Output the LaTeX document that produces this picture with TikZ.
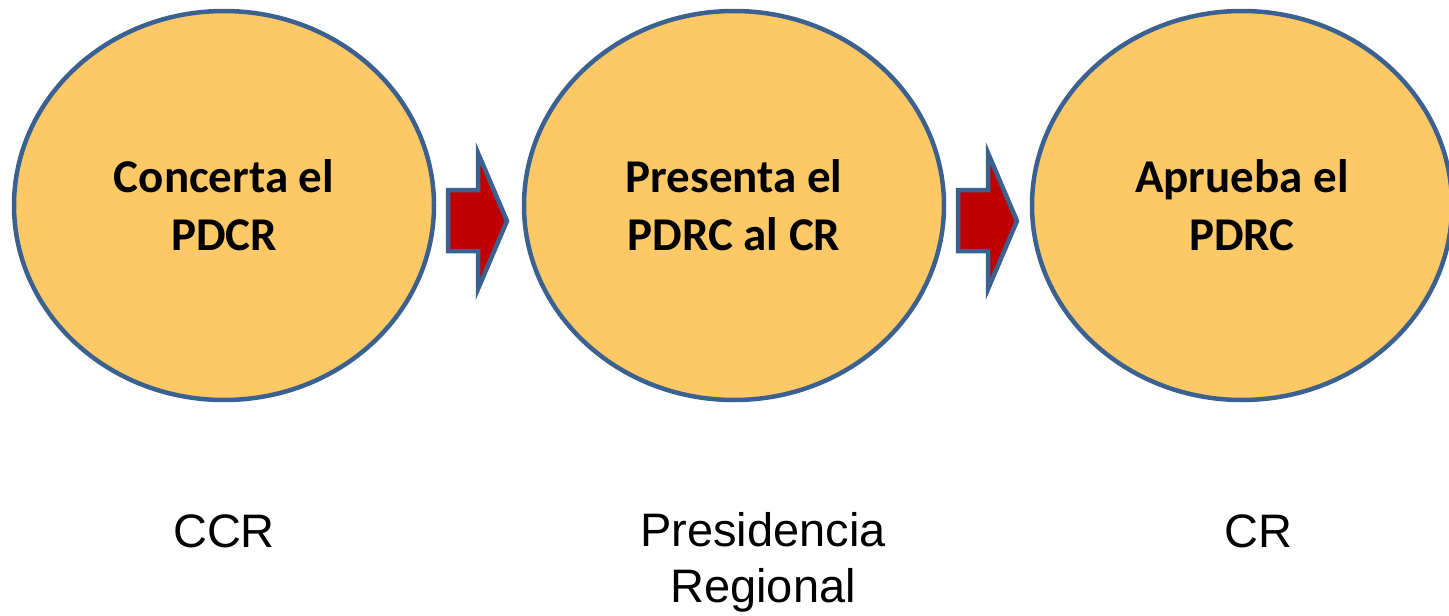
\documentclass[tikz,border=0pt]{standalone}
\usepackage{fontspec}
\setmainfont{Liberation Sans}
\newfontfamily\boldcal{Carlito}
\usetikzlibrary{shapes.geometric}
\definecolor{edgeblue}{HTML}{3B6190}
\definecolor{fillorange}{HTML}{FDC967}
\definecolor{arrowred}{HTML}{C00000}
\tikzset{
  stepoval/.style={ellipse, draw=edgeblue, fill=fillorange, line width=4.5pt,
    minimum width=420pt, minimum height=389pt, inner sep=0pt,
    align=center, font=\boldcal\bfseries\fontsize{47pt}{58pt}\selectfont},
  blockarrow/.style={draw=edgeblue, fill=arrowred, line width=4.5pt, line join=miter},
  actor/.style={font=\fontsize{47pt}{56pt}\selectfont, align=center, inner sep=0pt}
}
\begin{document}
\begin{tikzpicture}[x=1pt,y=-1pt]
\useasboundingbox (0,0) rectangle (1449,616);
\node[stepoval] (e1) at (224,205.5) {Concerta el\\PDCR};
\node[stepoval] (e2) at (734,205.5) {Presenta el\\PDRC al CR};
\node[stepoval] (e3) at (1242,205.5) {Aprueba el\\PDRC};
\draw[blockarrow] (448,190) -- (478,190) -- (478,153) -- (507,221) -- (478,289) -- (478,251) -- (448,251) -- cycle;
\draw[blockarrow] (958,190) -- (988,190) -- (988,153) -- (1017,221) -- (988,289) -- (988,251) -- (958,251) -- cycle;
\node[actor, anchor=base] (a1) at (224,547) {CCR};
\node[actor] (a2) at (763,562) {Presidencia\\Regional};
\node[actor, anchor=base] (a3) at (1258,547) {CR};
\end{tikzpicture}
\end{document}
